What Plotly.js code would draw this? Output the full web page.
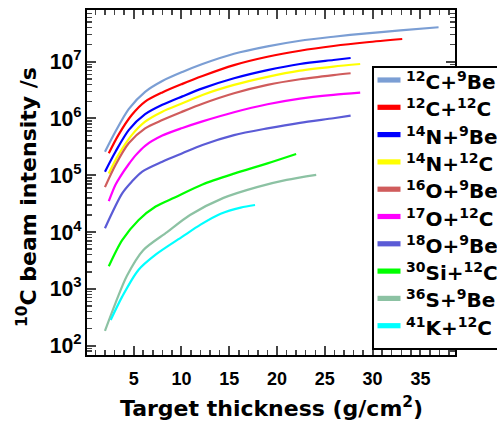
<!DOCTYPE html>
<html>
<head>
<meta charset="utf-8">
<script src="https://cdn.plot.ly/plotly-3.0.1.min.js"></script>
<style>html,body{margin:0;padding:0;background:#fff;}#chart{width:497px;height:425px;}</style>
</head>
<body>
<div id="chart"></div>
<script>
// ---- data ----
const seriesNames = [
  "<sup>12</sup>C+<sup>9</sup>Be",
  "<sup>12</sup>C+<sup>12</sup>C",
  "<sup>14</sup>N+<sup>9</sup>Be",
  "<sup>14</sup>N+<sup>12</sup>C",
  "<sup>16</sup>O+<sup>9</sup>Be",
  "<sup>17</sup>O+<sup>12</sup>C",
  "<sup>18</sup>O+<sup>9</sup>Be",
  "<sup>30</sup>Si+<sup>12</sup>C",
  "<sup>36</sup>S+<sup>9</sup>Be",
  "<sup>41</sup>K+<sup>12</sup>C"
];
const x_C12_Be9 = [2.0, 3.1, 4.5, 6.2, 8.0, 10.1, 12.2, 15.5, 19.0, 22.4, 25.9, 29.4, 32.9, 36.9];
const y_C12_Be9 = [2.6e5, 5.9e5, 1.48e6, 2.95e6, 4.57e6, 6.6e6, 9.1e6, 1.38e7, 1.86e7, 2.34e7, 2.75e7, 3.16e7, 3.55e7, 4.04e7];
const x_C12_C12 = [2.4, 3.4, 4.8, 6.2, 8.0, 10.1, 12.2, 15.5, 19.0, 22.4, 25.9, 29.4, 33.1];
const y_C12_C12 = [2.44e5, 5.1e5, 1.15e6, 1.98e6, 2.88e6, 4.07e6, 5.6e6, 8.7e6, 1.22e7, 1.56e7, 1.89e7, 2.2e7, 2.51e7];
const x_N14_Be9 = [2.0, 3.1, 4.5, 6.2, 8.0, 10.1, 12.2, 15.5, 19.0, 22.4, 25.9, 27.7];
const y_N14_Be9 = [1.16e5, 2.6e5, 6.3e5, 1.19e6, 1.74e6, 2.45e6, 3.39e6, 5.1e6, 7.1e6, 9.1e6, 1.07e7, 1.16e7];
const x_N14_C12 = [2.4, 3.4, 4.8, 6.2, 8.0, 10.1, 12.2, 15.5, 19.0, 22.4, 25.9, 28.7];
const y_N14_C12 = [1.08e5, 2.28e5, 5.1e5, 8.8e5, 1.32e6, 1.85e6, 2.6e6, 3.9e6, 5.4e6, 6.95e6, 8.2e6, 9.1e6];
const x_O16_Be9 = [2.0, 3.1, 4.5, 6.2, 8.0, 10.1, 12.2, 15.5, 19.0, 22.4, 25.9, 27.7];
const y_O16_Be9 = [6.2e4, 1.52e5, 3.7e5, 6.7e5, 9.4e5, 1.32e6, 1.82e6, 2.78e6, 3.9e6, 4.9e6, 5.8e6, 6.25e6];
const x_O17_C12 = [2.4, 3.1, 3.6, 4.5, 5.2, 6.2, 8.0, 10.1, 12.2, 15.5, 19.0, 22.4, 25.9, 28.7];
const y_O17_C12 = [3.5e4, 6.8e4, 9.5e4, 1.58e5, 2.24e5, 3.31e5, 5.0e5, 6.8e5, 8.9e5, 1.29e6, 1.78e6, 2.24e6, 2.6e6, 2.85e6];
const x_O18_Be9 = [2.0, 3.8, 4.8, 5.9, 8.0, 10.1, 12.2, 15.5, 19.0, 22.4, 25.9, 27.7];
const y_O18_Be9 = [1.17e4, 4.8e4, 7.7e4, 1.16e5, 1.73e5, 2.44e5, 3.42e5, 5.1e5, 6.7e5, 8.4e5, 1.01e6, 1.12e6];
const x_Si30_C12 = [2.4, 3.8, 5.5, 7.3, 9.3, 12.2, 15.5, 19.0, 22.0];
const y_Si30_C12 = [2.5e3, 7.2e3, 1.62e4, 2.82e4, 4.07e4, 6.9e4, 1.07e5, 1.62e5, 2.37e5];
const x_S36_Be9 = [2.0, 3.1, 4.3, 6.0, 8.5, 10.9, 14.4, 17.9, 21.0, 24.1];
const y_S36_Be9 = [182, 562, 1.7e3, 4.8e3, 1.0e4, 2.0e4, 4.0e4, 6.2e4, 8.3e4, 1.02e5];
const x_K41_C12 = [2.6, 3.8, 5.5, 7.3, 10.1, 12.0, 14.1, 16.2, 17.7];
const y_K41_C12 = [283, 730, 2.15e3, 4.0e3, 8.3e3, 1.35e4, 2.1e4, 2.7e4, 3.0e4];

const xTitle = "Target thickness (g/cm<sup>2</sup>)";
const yTitle = "<sup>10</sup>C beam intensity /s";

// ---- styling ----
const colors = ["#7b9ed4", "#ff0000", "#0000ff", "#ffff00", "#d05c5c",
                "#ff00ff", "#5b5bd6", "#00ff00", "#8cc2a3", "#00ffff"];
const xs = [x_C12_Be9, x_C12_C12, x_N14_Be9, x_N14_C12, x_O16_Be9, x_O17_C12, x_O18_Be9, x_Si30_C12, x_S36_Be9, x_K41_C12];
const ys = [y_C12_Be9, y_C12_C12, y_N14_Be9, y_N14_C12, y_O16_Be9, y_O17_C12, y_O18_Be9, y_Si30_C12, y_S36_Be9, y_K41_C12];

const W = 497, H = 425;
const M = {l: 87, r: 42, t: 10, b: 70};
const pw = W - M.l - M.r, ph = H - M.t - M.b;
const px = p => (p - M.l) / pw;          // pixel -> paper x
const py = p => 1 - (p - M.t) / ph;      // pixel -> paper y

const traces = xs.map((x, i) => ({
  type: "scatter", mode: "lines", x: x, y: ys[i], name: seriesNames[i],
  line: {color: colors[i], width: 2.2, shape: "spline", smoothing: 0.8},
  showlegend: false, hoverinfo: "skip"
}));

const shapes = [];
const annotations = [];
// legend box
shapes.push({type: "rect", xref: "paper", yref: "paper", layer: "above",
  x0: px(373), x1: px(520), y0: py(349), y1: py(67),
  line: {color: "#000", width: 2}, fillcolor: "#fff"});
seriesNames.forEach((n, i) => {
  const yc = 80 + i * 27.3;
  shapes.push({type: "rect", xref: "paper", yref: "paper", layer: "above",
    x0: px(377.5), x1: px(400.5), y0: py(yc + 2.6), y1: py(yc - 2.6),
    line: {width: 0}, fillcolor: colors[i]});
  annotations.push({xref: "paper", yref: "paper", x: px(404), y: py(yc + 1),
    xanchor: "left", yanchor: "middle", showarrow: false, text: n,
    font: {family: "DejaVu Sans", size: 20, color: "#000", weight: "bold"}});
});
annotations.push({xref: "paper", yref: "paper", x: px(271), y: py(407),
  xanchor: "center", yanchor: "middle", showarrow: false, text: xTitle,
  font: {family: "DejaVu Sans", size: 22, color: "#000", weight: "bold"}});
annotations.push({xref: "paper", yref: "paper", x: px(27), y: py(197),
  xanchor: "center", yanchor: "middle", showarrow: false, text: yTitle, textangle: -90,
  font: {family: "DejaVu Sans", size: 22, color: "#000", weight: "bold"}});

const layout = {
  width: W, height: H, margin: M, paper_bgcolor: "#fff", plot_bgcolor: "#fff",
  showlegend: false,
  xaxis: {range: [0.12, 38.62], tick0: 0, dtick: 5, ticks: "inside", ticklen: 9, tickwidth: 2,
    mirror: "allticks", showline: true, linewidth: 2, linecolor: "#000", showgrid: false, zeroline: false,
    minor: {dtick: 1, tick0: 0, ticks: "inside", ticklen: 5, tickwidth: 1.5, showgrid: false},
    tickfont: {family: "Liberation Sans", size: 18, color: "#000", weight: "bold"}, ticklabelstandoff: 6},
  yaxis: {type: "log", range: [1.836, 7.91], dtick: 1, exponentformat: "power", ticks: "inside", ticklen: 9, tickwidth: 2,
    mirror: "allticks", showline: true, linewidth: 2, linecolor: "#000", showgrid: false, zeroline: false,
    minor: {dtick: "D1", ticks: "inside", ticklen: 5, tickwidth: 1.5, showgrid: false},
    tickfont: {family: "Liberation Sans", size: 17, color: "#000", weight: "bold"}},
  shapes: shapes, annotations: annotations
};

Plotly.newPlot("chart", traces, layout, {displayModeBar: false, staticPlot: true});
</script>
</body>
</html>
